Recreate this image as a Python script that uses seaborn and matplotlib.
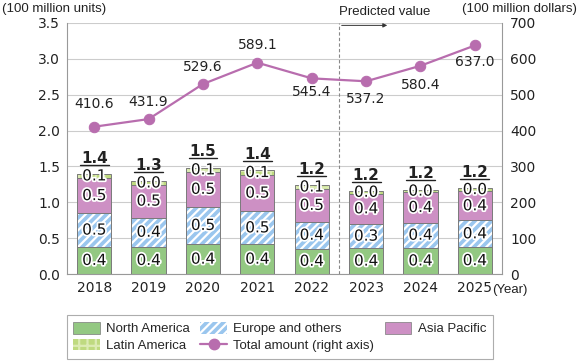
import numpy as np
import pandas as pd
import matplotlib.pyplot as plt
import matplotlib.patheffects as pe
from matplotlib.patches import Patch
from matplotlib.lines import Line2D
import seaborn as sns

years = ['2018', '2019', '2020', '2021', '2022', '2023', '2024', '2025']
north_america = [0.38, 0.38, 0.415, 0.415, 0.355, 0.36, 0.365, 0.374]
europe = [0.466, 0.406, 0.526, 0.457, 0.372, 0.337, 0.352, 0.374]
asia_pacific = [0.494, 0.461, 0.48, 0.512, 0.46, 0.424, 0.42, 0.406]
latin_america = [0.055, 0.045, 0.06, 0.06, 0.052, 0.037, 0.037, 0.046]
total_amount = [410.6, 431.9, 529.6, 589.1, 545.4, 537.2, 580.4, 637.0]

sns.set_style('white')
plt.rcParams['font.family'] = ['DejaVu Sans']
plt.rcParams['hatch.linewidth'] = 1.6
TXT = ['Liberation Sans', 'DejaVu Sans']

df = pd.DataFrame({'year': years, 'na': north_america, 'eu': europe,
                   'ap': asia_pacific, 'la': latin_america})
b1 = df['na'].values
b2 = b1 + df['eu'].values
b3 = b2 + df['ap'].values
tops = b3 + df['la'].values

fig = plt.figure(figsize=(5.78, 3.63), dpi=100)
ax = fig.add_axes([0.116, 0.245, 0.7525, 0.692])

c_na, c_eu, c_ap, c_la = '#93c882', '#9ac6ee', '#cd90c4', '#bfda80'
edge = '#7a7a7a'
W = 0.63

sns.barplot(data=df, x='year', y='na', color=c_na, width=W, edgecolor=edge,
            linewidth=0.7, saturation=1, ax=ax)
sns.barplot(data=df, x='year', y='eu', bottom=b1, color=c_eu, width=W, edgecolor='white',
            linewidth=0, hatch='////', saturation=1, ax=ax)
sns.barplot(data=df, x='year', y='eu', bottom=b1, color=edge, width=W, fill=False,
            linewidth=0.7, ax=ax)
sns.barplot(data=df, x='year', y='ap', bottom=b2, color=c_ap, width=W, edgecolor=edge,
            linewidth=0.7, saturation=1, ax=ax)
sns.barplot(data=df, x='year', y='la', bottom=b3, color=c_la, width=W, edgecolor='#dcebb4',
            linewidth=0, hatch='++', saturation=1, ax=ax)
sns.barplot(data=df, x='year', y='la', bottom=b3, color=edge, width=W, fill=False,
            linewidth=0.7, ax=ax)

stroke = [pe.withStroke(linewidth=2.5, foreground='white')]
total_texts = []
for i in range(len(years)):
    for bottom, val in [(0, north_america[i]), (b1[i], europe[i]),
                        (b2[i], asia_pacific[i]), (b3[i], latin_america[i])]:
        ax.text(i, bottom + val / 2, f'{val:.1f}', ha='center', va='center',
                fontsize=11, color='#111111', path_effects=stroke)
    t = ax.annotate(f'{tops[i]:.1f}', (i, tops[i]), xytext=(0, 6), textcoords='offset points',
                    ha='center', va='bottom', fontsize=11, fontweight='bold', color='#222222')
    total_texts.append(t)

ax.set_ylim(0, 3.5)
ax.set_yticks(np.arange(0, 3.51, 0.5))
ax.set_yticklabels([f'{v:.1f}' for v in np.arange(0, 3.51, 0.5)])
ax.set_xlim(-0.5, len(years) - 0.5)
ax.set_xlabel('')
ax.set_ylabel('')
ax.grid(axis='y', color='#cccccc', linewidth=0.8)
ax.set_axisbelow(True)
ax.tick_params(axis='both', labelsize=10, length=0, pad=5, colors='#222222')
ax.set_xticks(np.arange(-0.5, len(years), 1), minor=True)
ax.tick_params(axis='x', which='minor', direction='in', length=4, color='#999999')
for s in ['left', 'right', 'bottom']:
    ax.spines[s].set_color('#999999')
    ax.spines[s].set_linewidth(0.8)
ax.spines['top'].set_visible(False)

ax2 = ax.twinx()
line_color = '#b86dae'
sns.lineplot(x=np.arange(len(years)), y=total_amount, color=line_color, marker='o',
             markersize=7.5, markeredgecolor=line_color, linewidth=1.6, ax=ax2)
ax2.set_ylim(0, 700)
ax2.set_yticks(np.arange(0, 701, 100))
ax2.tick_params(axis='y', labelsize=10, length=0, pad=6, colors='#222222')
ax2.grid(False)
for s in ax2.spines.values():
    s.set_visible(False)
ax.set_xlim(-0.5, len(years) - 0.5)

offsets = [16, 12, 12, 13, -10, -13, -14, -12]
for i, v in enumerate(total_amount):
    ax2.annotate(f'{v:.1f}', (i, v), xytext=(0, offsets[i]), textcoords='offset points',
                 ha='center', va='center', fontsize=10, color='#222222')

ax.axvline(4.5, color='#888888', linestyle=(0, (3, 2)), linewidth=0.8)
ax.text(4.5, 1.02, 'Predicted value', transform=ax.get_xaxis_transform(),
        ha='left', va='bottom', fontsize=9.5, color='#222222', family=TXT)
ax.annotate('', xy=(5.44, 0.99), xytext=(4.5, 0.99), xycoords=ax.get_xaxis_transform(),
            textcoords=ax.get_xaxis_transform(),
            arrowprops=dict(arrowstyle='-|>', color='#333333', lw=0.7, mutation_scale=6))

fig.text(0.003, 0.975, '(100 million units)', ha='left', va='center', fontsize=9.5,
         color='#222222', family=TXT)
fig.text(0.998, 0.975, '(100 million dollars)', ha='right', va='center', fontsize=9.5,
         color='#222222', family=TXT)
ax.text(7.32, -0.04, '(Year)', transform=ax.get_xaxis_transform(), ha='left', va='top',
        fontsize=9.5, color='#222222', family=TXT)

handles = [
    Patch(facecolor=c_na, edgecolor=edge, linewidth=0.5, label='North America'),
    Patch(facecolor=c_la, edgecolor='#dcebb4', hatch='++', linewidth=0, label='Latin America'),
    Patch(facecolor=c_eu, edgecolor='white', hatch='////', linewidth=0, label='Europe and others'),
    Line2D([], [], color=line_color, marker='o', markersize=7.5, linewidth=1.6,
           label='Total amount (right axis)'),
    Patch(facecolor=c_ap, edgecolor=edge, linewidth=0.5, label='Asia Pacific'),
]
leg = fig.legend(handles=handles, ncol=3, loc='center', bbox_to_anchor=(0.484, 0.072),
                 prop={'family': TXT, 'size': 9.5}, frameon=True, fancybox=False,
                 edgecolor='#999999', handlelength=2.0, handleheight=1.0, columnspacing=0.8,
                 handletextpad=0.5, labelspacing=0.25, borderpad=0.5)
leg.get_frame().set_linewidth(0.8)

# underline the bar totals
fig.canvas.draw()
inv = fig.transFigure.inverted()
for t in total_texts:
    bb = t.get_window_extent()
    (x0, y0), (x1, _) = inv.transform([(bb.x0 - 1, bb.y0 + 1), (bb.x1 + 1, bb.y0 + 1)])
    fig.add_artist(Line2D([x0, x1], [y0, y0], transform=fig.transFigure,
                          color='#222222', linewidth=1.0))

fig.savefig('out.png', dpi=100)
